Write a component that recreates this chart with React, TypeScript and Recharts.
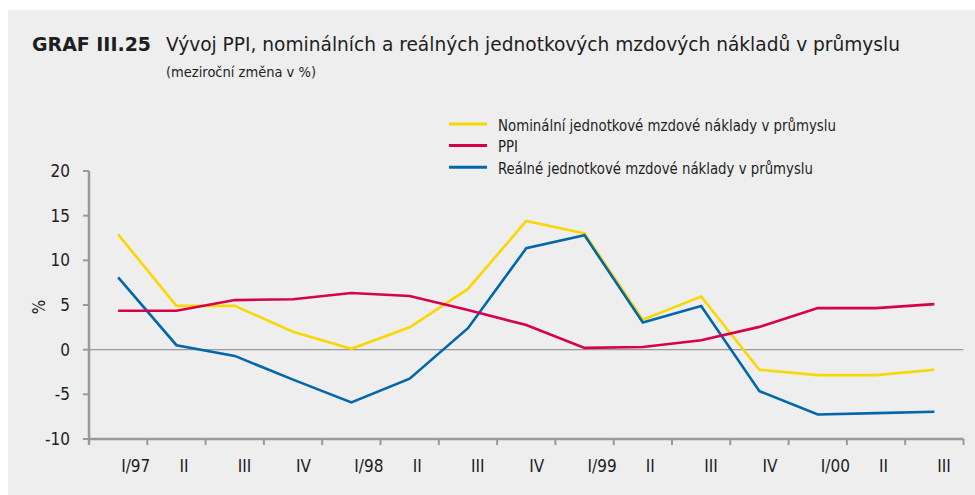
import React from 'react';
import { LineChart, Line, XAxis, YAxis, ReferenceLine } from 'recharts';

const quarters = ['1997Q1', '1997Q2', '1997Q3', '1997Q4', '1998Q1', '1998Q2', '1998Q3', '1998Q4', '1999Q1', '1999Q2', '1999Q3', '1999Q4', '2000Q1', '2000Q2', '2000Q3'];
const tickLabels = ['I/97', 'II', 'III', 'IV', 'I/98', 'II', 'III', 'IV', 'I/99', 'II', 'III', 'IV', 'I/00', 'II', 'III'];
const nominal = [12.9, 4.9, 4.9, 2.0, 0.1, 2.5, 6.8, 14.4, 13.0, 3.35, 5.95, -2.25, -2.85, -2.85, -2.25];
const ppi = [4.35, 4.35, 5.55, 5.65, 6.35, 6.0, 4.45, 2.75, 0.2, 0.3, 1.05, 2.55, 4.65, 4.65, 5.1];
const real = [8.1, 0.5, -0.7, -3.35, -5.9, -3.25, 2.4, 11.35, 12.8, 3.05, 4.9, -4.65, -7.25, -7.1, -6.95];
const yTicks = [-10, -5, 0, 5, 10, 15, 20];

const seriesNames = {
  nominal: 'Nominální jednotkové mzdové náklady v průmyslu',
  ppi: 'PPI',
  real: 'Reálné jednotkové mzdové náklady v průmyslu',
};

const data = quarters.map((q, i) => ({ q, nominal: nominal[i], ppi: ppi[i], real: real[i] }));

const FONT = '"Liberation Sans Narrow", "DejaVu Sans Condensed", "Arial Narrow", sans-serif';
const AXIS = '#999999';
const TEXT = '#1e1e1e';
const YELLOW = '#F9D700';
const RED = '#D6004F';
const BLUE = '#0068AA';

const XTick = (props: any) => {
  const { x, y, payload, index } = props;
  const half = payload && payload.offset ? payload.offset : 29.15;
  const isLast = index === quarters.length - 1;
  return (
    <g>
      <line x1={x - half} x2={x - half} y1={y} y2={y + 6} stroke={AXIS} strokeWidth={2} />
      {isLast && <line x1={x + half} x2={x + half} y1={y} y2={y + 6} stroke={AXIS} strokeWidth={2} />}
      <text x={x + 3} y={y + 33} textAnchor="start" fontSize={17} fill={TEXT} fontFamily={FONT}>
        {tickLabels[index]}
      </text>
    </g>
  );
};

export default function App() {
  return (
    <div style={{ position: 'absolute', left: 0, top: 0, width: 975, height: 495, background: '#ffffff', overflow: 'hidden' }}>
      <div style={{ position: 'absolute', left: 8, top: 10, width: 967, height: 485, background: '#eeeeee' }} />
      <div style={{ position: 'absolute', left: 0, top: 0 }}>
        <LineChart width={975} height={495} data={data} margin={{ top: 171, right: 11.5, bottom: 16, left: 0 }}>
          <XAxis
            dataKey="q"
            scale="band"
            interval={0}
            height={40}
            tickSize={0}
            tickMargin={0}
            axisLine={{ stroke: AXIS, strokeWidth: 2.5 }}
            tickLine={false}
            tick={<XTick />}
          />
          <YAxis
            width={89}
            domain={[-10, 20]}
            ticks={yTicks}
            interval={0}
            tickSize={6}
            tickMargin={13}
            axisLine={{ stroke: AXIS, strokeWidth: 2.5 }}
            tickLine={{ stroke: AXIS, strokeWidth: 2 }}
            tick={{ fontSize: 17, fill: TEXT, fontFamily: FONT }}
          />
          <ReferenceLine y={0} stroke={AXIS} strokeWidth={1.4} />
          <Line dataKey="nominal" name={seriesNames.nominal} stroke={YELLOW} strokeWidth={2.6} dot={false} isAnimationActive={false} />
          <Line dataKey="real" name={seriesNames.real} stroke={BLUE} strokeWidth={2.6} dot={false} isAnimationActive={false} />
          <Line dataKey="ppi" name={seriesNames.ppi} stroke={RED} strokeWidth={2.6} dot={false} isAnimationActive={false} />
        </LineChart>
      </div>
      <svg width={975} height={495} style={{ position: 'absolute', left: 0, top: 0, pointerEvents: 'none' }}>
        <g fontFamily={FONT} fill={TEXT}>
          <text x={32} y={51} fontSize={20} fontWeight="bold" textLength={119} lengthAdjust="spacingAndGlyphs">GRAF III.25</text>
          <text x={166} y={51} fontSize={20} textLength={734} lengthAdjust="spacingAndGlyphs">Vývoj PPI, nominálních a reálných jednotkových mzdových nákladů v průmyslu</text>
          <text x={166} y={77} fontSize={14} textLength={150} lengthAdjust="spacingAndGlyphs">(meziroční změna v %)</text>
          <line x1={449} x2={487} y1={124} y2={124} stroke={YELLOW} strokeWidth={3} />
          <line x1={449} x2={487} y1={145.5} y2={145.5} stroke={RED} strokeWidth={3} />
          <line x1={449} x2={487} y1={167.3} y2={167.3} stroke={BLUE} strokeWidth={3} />
          <text x={498} y={130.5} fontSize={16.5} textLength={338} lengthAdjust="spacingAndGlyphs">{seriesNames.nominal}</text>
          <text x={498} y={152} fontSize={16.5} textLength={20} lengthAdjust="spacingAndGlyphs">{seriesNames.ppi}</text>
          <text x={498} y={173.8} fontSize={16.5} textLength={315} lengthAdjust="spacingAndGlyphs">{seriesNames.real}</text>
          <text x={39} y={313} fontSize={17} textAnchor="middle" transform="rotate(-90 39 307)">%</text>
          <line x1={89} x2={89} y1={438} y2={445} stroke={AXIS} strokeWidth={2.5} />
        </g>
      </svg>
    </div>
  );
}
